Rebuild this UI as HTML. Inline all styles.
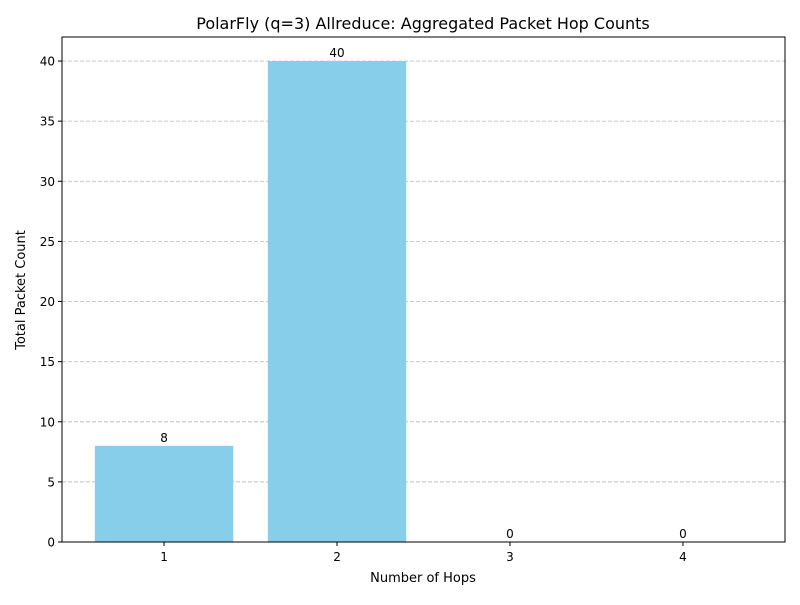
<!DOCTYPE html>
<html><head><meta charset="utf-8"><style>
body{margin:0;background:#fff;font-family:"Liberation Sans","DejaVu Sans",sans-serif}
svg text{font-family:"DejaVu Sans","Liberation Sans",sans-serif}
</style></head><body>
<svg id="chart" width="800" height="600" xmlns="http://www.w3.org/2000/svg">
<rect width="800" height="600" fill="#fff"/>
<g id="grid"></g><g id="bars"></g><g id="axes"></g>
<text x="423" y="29" text-anchor="middle" font-size="16">PolarFly (q=3) Allreduce: Aggregated Packet Hop Counts</text>
<text x="423" y="582" text-anchor="middle" font-size="13">Number of Hops</text>
<text transform="translate(25,290) rotate(-90)" text-anchor="middle" font-size="13">Total Packet Count</text>
</svg>
<script>
const categories = ["1","2","3","4"];
const values = [8, 40, 0, 0];
const yTicks = [0,5,10,15,20,25,30,35,40];
const L=62,R=785,T=37,B=542,xmin=0.41,xmax=4.59,ymax=42;
const X=v=>L+(v-xmin)/(xmax-xmin)*(R-L);
const Y=v=>B-v/ymax*(B-T);
const NS="http://www.w3.org/2000/svg";
function mk(parent,tag,attrs,text){const e=document.createElementNS(NS,tag);for(const k in attrs)e.setAttribute(k,attrs[k]);if(text!==undefined)e.textContent=text;document.getElementById(parent).appendChild(e);return e;}
yTicks.forEach(t=>{
  const g=mk('grid','line',{x1:L,x2:R,y1:Y(t),y2:Y(t),stroke:'#b0b0b0','stroke-opacity':0.8,'stroke-dasharray':'4,2','stroke-width':0.9});
  
  
  const tk=mk('axes','line',{x1:L-4,x2:L,y1:Y(t),y2:Y(t),stroke:'#000'});
  
  
  const lb=mk('axes','text',{x:L-7,y:Y(t)+4.5,'text-anchor':'end','font-size':12},String(t));
  
  
});
const bw=0.8*(R-L)/(xmax-xmin);
categories.forEach((c,i)=>{
  const cx=X(i+1),v=values[i];
  const r=mk('bars','rect',{x:cx-bw/2,y:Y(v),width:bw,height:B-Y(v),fill:'#87ceeb'});
  
  
  const vl=mk('bars','text',{x:cx,y:Y(v)-4,'text-anchor':'middle','font-size':12},String(v));
  
  
  const tk=mk('axes','line',{x1:cx,x2:cx,y1:B,y2:B+4,stroke:'#000'});
  
  
  const lb=mk('axes','text',{x:cx,y:B+19,'text-anchor':'middle','font-size':12},c);
  
  
});
const f=mk('axes','rect',{x:L,y:T,width:R-L,height:B-T,fill:'none',stroke:'#000','stroke-width':1});


</script>
</body></html>
